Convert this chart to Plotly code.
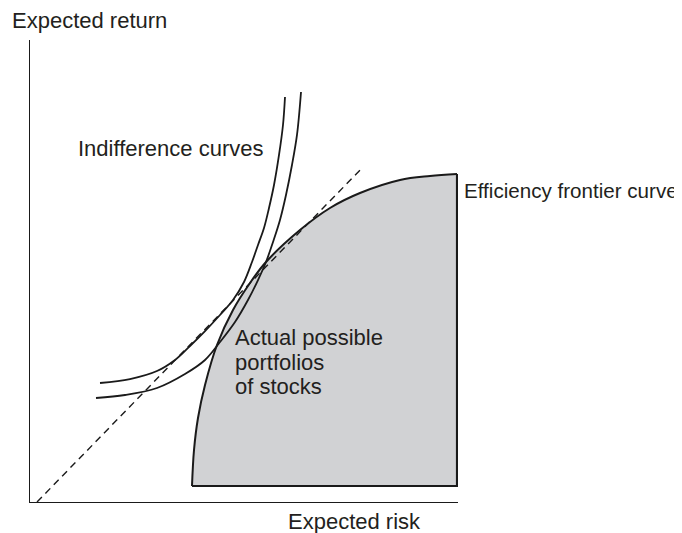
import plotly.graph_objects as go

# Data (risk on x, return on y, both 0..100)
frontier_x = [37.85, 38.32, 39.25, 40.89, 43.69, 47.43, 51.40, 55.14, 63.08, 70.09, 77.10, 86.45, 93.46, 99.77]
frontier_y = [3.46, 11.26, 18.18, 25.32, 33.98, 41.56, 47.40, 51.95, 58.87, 63.64, 66.88, 69.70, 70.56, 71.00]

box_x = [37.85, 99.77, 99.77]
box_y = [3.46, 3.46, 71.00]

upper_x = [16.36, 23.36, 29.67, 33.88, 37.38, 40.89, 44.39, 47.43, 50.00, 51.87, 53.27, 54.67, 55.84, 57.01, 58.18, 59.11, 59.58]
upper_y = [25.76, 26.62, 28.35, 30.74, 33.77, 37.01, 40.48, 43.72, 47.62, 51.95, 55.63, 59.31, 63.64, 68.61, 75.11, 81.60, 87.66]

lower_x = [15.42, 22.20, 29.67, 36.21, 40.89, 44.39, 47.90, 50.93, 53.27, 55.14, 56.78, 58.41, 59.81, 61.21, 62.38, 63.32]
lower_y = [22.51, 23.16, 24.68, 27.71, 30.74, 34.63, 38.96, 43.72, 48.05, 51.95, 56.28, 61.04, 66.45, 72.94, 79.44, 88.74]

tangent_x = [1.64, 77.8]
tangent_y = [0.0, 72.5]

labels = {
    "y_title": "Expected return",
    "x_title": "Expected risk",
    "indiff": "Indifference curves",
    "frontier": "Efficiency frontier curve",
    "region": ["Actual possible", "portfolios", "of stocks"],
}

FONT = "Liberation Sans, Arial, Helvetica, sans-serif"
TXT = "#231f20"
SMOOTH = 1.0

fig = go.Figure()
# right edge + bottom of region (base for fill)
fig.add_trace(go.Scatter(x=box_x, y=box_y, mode="lines",
                         line=dict(color="#1a1a1a", width=2.2),
                         hoverinfo="skip", showlegend=False))
# frontier with fill to the box
fig.add_trace(go.Scatter(x=frontier_x, y=frontier_y, mode="lines",
                         line=dict(color="#1a1a1a", width=2, shape="spline", smoothing=SMOOTH),
                         fill="tonexty", fillcolor="#d1d2d4",
                         hoverinfo="skip", showlegend=False))
# dashed tangent line
fig.add_trace(go.Scatter(x=tangent_x, y=tangent_y, mode="lines",
                         line=dict(color="#1a1a1a", width=1.4, dash="7px,5px"),
                         hoverinfo="skip", showlegend=False))
# indifference curves
for xs, ys in [(upper_x, upper_y), (lower_x, lower_y)]:
    fig.add_trace(go.Scatter(x=xs, y=ys, mode="lines",
                             line=dict(color="#1a1a1a", width=1.8, shape="spline", smoothing=SMOOTH),
                             hoverinfo="skip", showlegend=False))

def ann(text, x, y, size=22, anchor="left"):
    # x, y in data units (axes span 0..100 over the full domain) -> paper coords
    fig.add_annotation(x=x / 100.0, y=y / 100.0, xref="paper", yref="paper", text=text,
                       showarrow=False, xanchor=anchor, yanchor="middle",
                       font=dict(family=FONT, size=size, color=TXT))

ann(labels["y_title"], -4.6, 104.3)
ann(labels["indiff"], 10.8, 76.6)
ann(labels["frontier"], 101.0, 67.5, size=20.6)
ann(labels["region"][0], 47.5, 35.7)
ann(labels["region"][1], 47.5, 30.3)
ann(labels["region"][2], 47.5, 24.9)
ann(labels["x_title"], 59.9, -4.3)

axis_common = dict(range=[0, 100], showline=True, linecolor="#1a1a1a", linewidth=1.3,
                   showgrid=False, zeroline=False, showticklabels=False, ticks="",
                   fixedrange=True)
fig.update_layout(
    width=682, height=533,
    margin=dict(l=22, r=232, t=32, b=39),
    paper_bgcolor="white", plot_bgcolor="white",
    xaxis=axis_common, yaxis=axis_common,
    showlegend=False,
)
fig.write_html("out.html")
